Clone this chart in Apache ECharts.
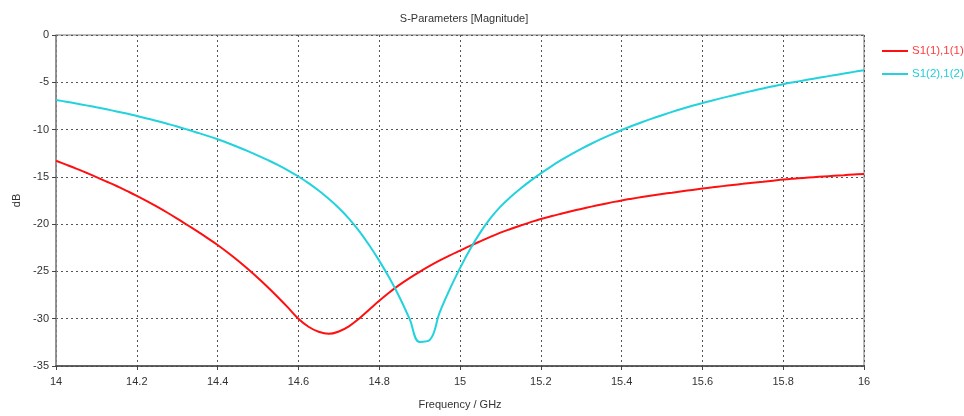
<!DOCTYPE html>
<html>
<head>
<meta charset="utf-8">
<script src="https://cdn.jsdelivr.net/npm/echarts@6/dist/echarts.min.js"></script>
<style>
  html, body { margin: 0; padding: 0; background: #fff; }
  #chart { width: 964px; height: 416px; }
</style>
</head>
<body>
<div id="chart"></div>
<script>
// Frequency sweep: 14 to 16 GHz in 25 MHz steps (81 samples)
const sweepStart = 14.0, sweepStep = 0.025, sweepCount = 81;
const freqGHz = Array.from({ length: sweepCount }, (_, i) => +(sweepStart + i * sweepStep).toFixed(3));

// S11 magnitude (dB) at each sweep frequency
const s11dB = [
  -13.3,
  -13.71, -14.13, -14.57, -15.02, -15.49, -15.97, -16.48, -17.0,
  -17.56, -18.15, -18.77, -19.42, -20.09, -20.77, -21.47, -22.2,
  -23.0, -23.85, -24.75, -25.7, -26.7, -27.75, -28.85, -30.0,
  -30.85, -31.38, -31.6, -31.35, -30.8, -30.0, -29.05, -28.1,
  -27.22, -26.42, -25.7, -25.04, -24.42, -23.84, -23.3, -22.8,
  -22.3, -21.82, -21.35, -20.9, -20.51, -20.14, -19.79, -19.46,
  -19.17, -18.9, -18.64, -18.39, -18.15, -17.92, -17.7, -17.49,
  -17.31, -17.14, -16.98, -16.82, -16.67, -16.52, -16.38, -16.24,
  -16.11, -15.98, -15.86, -15.74, -15.62, -15.51, -15.4, -15.29,
  -15.2, -15.12, -15.04, -14.96, -14.89, -14.82, -14.75, -14.69
];

// S22 magnitude (dB) at each sweep frequency
const s22dB = [
  -6.87,
  -7.05, -7.24, -7.44, -7.65, -7.86, -8.08, -8.31, -8.56,
  -8.82, -9.09, -9.38, -9.68, -10.0, -10.33, -10.67, -11.03,
  -11.42, -11.84, -12.28, -12.75, -13.24, -13.76, -14.33, -14.96,
  -15.66, -16.44, -17.31, -18.29, -19.41, -20.71, -22.21, -23.86,
  -25.68, -27.7, -30.0, -32.45, -32.25, -29.3, -26.85, -24.65,
  -22.65, -20.9, -19.4, -18.15, -17.13, -16.23, -15.4, -14.63,
  -13.91, -13.24, -12.62, -12.04, -11.5, -10.99, -10.51, -10.05,
  -9.62, -9.22, -8.84, -8.48, -8.13, -7.8, -7.49, -7.2,
  -6.92, -6.65, -6.39, -6.14, -5.89, -5.65, -5.42, -5.2,
  -5.0, -4.81, -4.62, -4.44, -4.26, -4.08, -3.9, -3.73
];

const seriesNames = ['S1(1),1(1)', 'S1(2),1(2)'];
const seriesColors = ['#ff1010', '#22d2dc'];
const legendTextColors = ['#ff3c3c', '#22cdd8'];

const pairs = ys => freqGHz.map((x, i) => [x, ys[i]]);

const font = '"Liberation Sans", Arial, sans-serif';
const gridLine = { show: true, lineStyle: { color: '#555', width: 1, type: [2, 3] } };

const chart = echarts.init(document.getElementById('chart'), null, { renderer: 'canvas' });
chart.setOption({
  animation: false,
  backgroundColor: '#ffffff',
  title: {
    text: 'S-Parameters [Magnitude]',
    left: 459, top: 8, textAlign: 'center',
    textStyle: { fontFamily: font, fontSize: 11, fontWeight: 'normal', color: '#333' }
  },
  legend: {
    orient: 'vertical',
    left: 877, top: 40,
    itemWidth: 26, itemHeight: 2, itemGap: 11,
    icon: 'rect',
    data: seriesNames.map((n, i) => ({ name: n, textStyle: { color: legendTextColors[i] } })),
    textStyle: { fontFamily: font, fontSize: 11.5, padding: [0, 0, 0, -1] }
  },
  grid: {
    left: 56, top: 35, right: 100, bottom: 50,
    show: true, borderColor: '#777', borderWidth: 1
  },
  xAxis: {
    type: 'value', min: 14, max: 16, interval: 0.2,
    name: 'Frequency / GHz', nameLocation: 'middle', nameGap: 33,
    nameTextStyle: { fontFamily: font, fontSize: 11, color: '#333' },
    axisLine: { show: true, onZero: false, lineStyle: { color: '#444', width: 1.5 } },
    axisTick: { show: true, length: 4, lineStyle: { color: '#444' } },
    axisLabel: {
      fontFamily: font, fontSize: 11, color: '#333', margin: 10,
      formatter: v => String(Math.round(v * 10) / 10)
    },
    splitLine: gridLine
  },
  yAxis: {
    type: 'value', min: -35, max: 0, interval: 5,
    name: 'dB', nameLocation: 'middle', nameGap: 34, nameRotate: 90,
    nameTextStyle: { fontFamily: font, fontSize: 11, color: '#333' },
    axisLine: { show: true, onZero: false, lineStyle: { color: '#888', width: 1.5 } },
    axisTick: { show: true, length: 4, lineStyle: { color: '#444' } },
    axisLabel: { fontFamily: font, fontSize: 11, color: '#333', margin: 7 },
    splitLine: gridLine
  },
  series: [
    {
      name: seriesNames[0], type: 'line', data: pairs(s11dB),
      smooth: 0.4, showSymbol: false, color: seriesColors[0],
      lineStyle: { width: 2, color: seriesColors[0] }
    },
    {
      name: seriesNames[1], type: 'line', data: pairs(s22dB),
      smooth: 0.4, showSymbol: false, color: seriesColors[1],
      lineStyle: { width: 2, color: seriesColors[1] }
    }
  ]
});
</script>
</body>
</html>
